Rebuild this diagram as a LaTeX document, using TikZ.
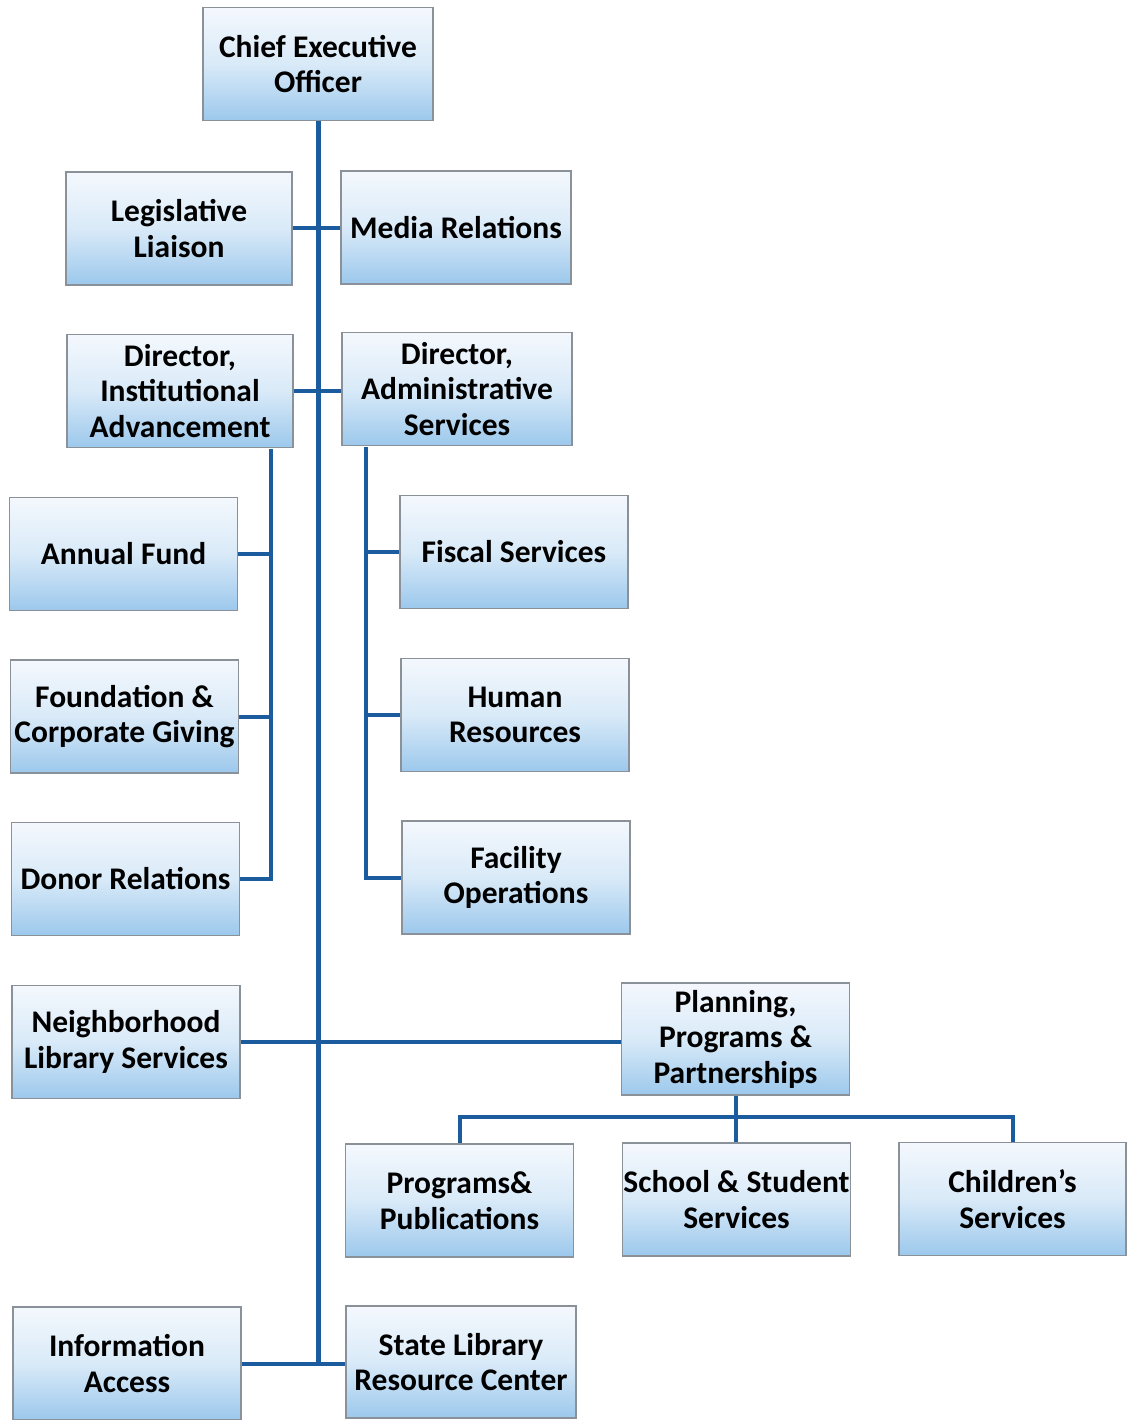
\documentclass[tikz,border=0pt]{standalone}
\usepackage{fontspec}
\setmainfont{Carlito}
\usetikzlibrary{calc}
\definecolor{linec}{HTML}{1B5C9E}
\definecolor{boxtop}{HTML}{F4F8FD}
\definecolor{boxmid}{HTML}{D9EAF8}
\definecolor{boxbot}{HTML}{9CC8EC}
\definecolor{boxedge}{HTML}{8A9199}
\begin{document}
\begin{tikzpicture}[x=1pt,y=-1pt,
  orgbox/.style={draw=boxedge, line width=1.6pt, top color=boxtop, bottom color=boxbot, middle color=boxmid,
    minimum width=228pt, minimum height=113pt, inner sep=1pt, align=center,
    font=\fontsize{31.5}{35.5}\selectfont\bfseries},
  conn/.style={draw=linec, line width=4pt},
  trunk/.style={draw=linec, line width=5pt}]
\useasboundingbox (0,0) rectangle (1126,1420);
\coordinate (trunkbot) at (318,1365);
\coordinate (iatop) at (271,449);
\coordinate (astop) at (366,447);
\coordinate (pbar) at (736,1117);
% nodes
\node[orgbox, minimum width=230pt] (ceo) at (318,64) {Chief Executive\\Officer};
\node[orgbox, minimum width=226pt] (leg) at (179,228.5) {Legislative\\Liaison};
\node[orgbox, minimum width=230pt] (media) at (456,227.5) {Media Relations};
\node[orgbox, minimum width=226pt] (dia) at (180,391) {Director,\\Institutional\\Advancement};
\node[orgbox, minimum width=230pt] (das) at (457,389) {Director,\\Administrative\\Services};
\node[orgbox] (annual) at (123.5,554) {Annual Fund};
\node[orgbox] (fiscal) at (514,552) {Fiscal Services};
\node[orgbox] (found) at (124.5,716.5) {Foundation \&\\Corporate Giving};
\node[orgbox] (hr) at (515,715) {Human\\Resources};
\node[orgbox] (donor) at (125.5,879) {Donor Relations};
\node[orgbox] (facility) at (516,877.5) {Facility\\Operations};
\node[orgbox] (neigh) at (126,1042) {Neighborhood\\Library Services};
\node[orgbox, minimum height=112pt] (plan) at (735.5,1039) {Planning,\\Programs \&\\Partnerships};
\node[orgbox] (progpub) at (459.5,1200.5) {Programs\&\\Publications};
\node[orgbox] (school) at (736.5,1199.5) {School \& Student\\Services};
\node[orgbox, minimum width=227pt] (child) at (1012.5,1199) {Children’s\\Services};
\node[orgbox] (info) at (127,1363.5) {Information\\Access};
\node[orgbox, minimum width=230pt, minimum height=112pt] (state) at (461,1362) {State Library\\Resource Center};
% lines
\draw[trunk] (ceo.south) -- (ceo.south |- trunkbot);
\draw[conn] (leg.east) -- (leg.east -| media.west);
\draw[conn] (dia.east) -- (dia.east -| das.west);
\draw[conn] (iatop) |- (donor.east);
\draw[conn] (annual.east) -- (annual.east -| iatop);
\draw[conn] (found.east) -- (found.east -| iatop);
\draw[conn] (astop) |- (facility.west);
\draw[conn] (fiscal.west) -- (fiscal.west -| astop);
\draw[conn] (hr.west) -- (hr.west -| astop);
\draw[conn] (neigh.east) -- (neigh.east -| plan.west);
\draw[conn] (plan.south) -- (plan.south |- school.north);
\draw[conn] (progpub.north) |- (pbar) -| (child.north);
\draw[conn] (info.east) -- (info.east -| state.west);
\end{tikzpicture}
\end{document}
